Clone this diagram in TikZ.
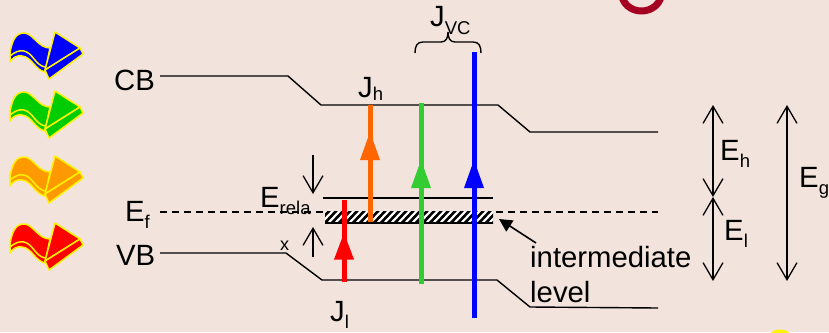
\documentclass[tikz,border=0pt]{standalone}
\usepackage{fontspec}
\setmainfont{Liberation Sans}
\usetikzlibrary{arrows.meta}
\definecolor{bgc}{HTML}{F2E4DC}
\definecolor{dred}{HTML}{A50021}
\definecolor{cblue}{HTML}{0000FF}
\definecolor{cgreen}{HTML}{00CC00}
\definecolor{corange}{HTML}{FF9900}
\definecolor{cred}{HTML}{FF0000}
\definecolor{agreen}{HTML}{33CC33}
\definecolor{aorange}{HTML}{FF6600}
\newcommand{\lab}[3][-7pt]{{\fontsize{29.3}{29}\selectfont #2}\raisebox{#1}{\fontsize{18.5}{19}\selectfont #3}}
\newcommand{\iconflag}[2]{%
\begin{scope}[yshift=-#1pt]
\draw[iconline,fill=#2] (10,33) .. controls (12,20) and (16,13) .. (24,13) .. controls (33,13) and (38,28) .. (50,28) -- (45,52) .. controls (35,50) and (32,37) .. (22,36) .. controls (17,35) and (12,38) .. (10,42) -- cycle;
\draw[iconline] (10,36) .. controls (15,32) and (19,30) .. (24,31) .. controls (33,33) and (35,45) .. (45,47);
\draw[iconline,fill=#2] (55,12) -- (80,28) -- (45,50) -- cycle;
\draw[iconline,fill=#2] (80,28) -- (83,34) -- (49,59) -- (45,50) -- cycle;
\end{scope}}
\tikzset{
 x=1pt,y=-1pt,
 iconline/.style={draw=yellow,line width=1.5pt,line join=round},
 level/.style={draw=black,line width=1.4pt,line join=round},
 lab/.style={inner sep=0pt,anchor=base west,text=black},
 dim/.style={draw=black,line width=1.3pt,{Straight Barb[length=6mm,width=7mm,line width=1.3pt]}-{Straight Barb[length=6mm,width=7mm,line width=1.3pt]}},
 onebarb/.style={draw=black,line width=1.3pt,-{Straight Barb[length=6mm,width=7mm,line width=1.3pt]}},
}
\begin{document}
\begin{tikzpicture}
\fill[bgc] (0,0) rectangle (829,332);
\useasboundingbox (0,0) rectangle (829,332);
\begin{scope}
\clip (0,0) rectangle (829,332);
\draw[dred,line width=7pt] (621,-10) .. controls (621,18) and (662,18) .. (662,-10);
\fill[yellow] (770,334) .. controls (774,328) and (786,328) .. (790,334) -- cycle;
\end{scope}
% icons
\iconflag{20}{cblue}
\iconflag{79}{cgreen}
\iconflag{144}{corange}
\iconflag{211}{cred}
% band coordinates
\coordinate (cb0) at (160,76); \coordinate (cb1) at (288,76); \coordinate (cb2) at (321,105);
\coordinate (cb3) at (498,105); \coordinate (cb4) at (530,132); \coordinate (cb5) at (658,132);
\coordinate (vb0) at (160,253); \coordinate (vb1) at (286,253); \coordinate (vb2) at (322,280);
\coordinate (vb3) at (497,280); \coordinate (vb4) at (530,307); \coordinate (vb5) at (658,308);
\draw[level] (cb0)--(cb1)--(cb2)--(cb3)--(cb4)--(cb5);
\draw[level] (vb0)--(vb1)--(vb2)--(vb3)--(vb4)--(vb5);
\coordinate (ef0) at (160,212); \coordinate (ef1) at (658,212);
\draw[draw=black,line width=1.3pt,dash pattern=on 7pt off 5pt] (ef0)--(ef1);
\coordinate (il0) at (323,198); \coordinate (il1) at (493,198);
\draw[level] (il0)--(il1);
% hatched level
\begin{scope}
\clip (325,211.5) rectangle (493,223);
\fill[white] (325,211) rectangle (493,224);
\foreach \h in {315,322,...,510}{\draw[black,line width=2.6pt] (\h,226)--(\h+17,208);}
\end{scope}
\draw[black,line width=1.2pt] (325,223)--(493,223);
% vertical arrows
\coordinate (r0) at (344,282); \coordinate (r1) at (344,200);
\coordinate (o0) at (370,222); \coordinate (o1) at (370,105);
\coordinate (g0) at (421,284); \coordinate (g1) at (421,103);
\coordinate (b0) at (474,318); \coordinate (b1) at (474,52);
\draw[cred,line width=5pt] (r0)--(r1);
\fill[cred] (344,233) -- (354,259.5) -- (334,259.5) -- cycle;
\draw[aorange,line width=5pt] (o0)--(o1);
\fill[aorange] (370,132) -- (380,160) -- (360,160) -- cycle;
\draw[agreen,line width=5pt] (g0)--(g1);
\fill[agreen] (421,160) -- (431,188) -- (411,188) -- cycle;
\draw[cblue,line width=5pt] (b0)--(b1);
\fill[cblue] (474,160) -- (484,188) -- (464,188) -- cycle;
% relaxation arrows
\coordinate (d0) at (313,155); \coordinate (d1) at (313,194);
\coordinate (u0) at (313,257); \coordinate (u1) at (313,227);
\draw[onebarb] (d0)--(d1);
\draw[onebarb] (u0)--(u1);
% dimension arrows
\coordinate (h0) at (713,105); \coordinate (h1) at (713,197); \coordinate (l1) at (713,281);
\coordinate (g2) at (787,105); \coordinate (g3) at (787,281);
\draw[dim] (h0)--(h1);
\draw[dim] (h1)--(l1);
\draw[dim] (g2)--(g3);
% brace
\draw[black,line width=1.4pt] (415,53) .. controls (415,46) and (417,42) .. (423,42) -- (441,42) .. controls (446,42) and (448,38) .. (448,32) .. controls (448,38) and (450,42) .. (455,42) -- (473,42) .. controls (479,42) and (481,46) .. (481,53);
% pointer
\coordinate (p0) at (536,243); \coordinate (p1) at (499,219);
\draw[black,line width=1.6pt,-{Triangle[length=13pt,width=13pt]}] (p0)--(p1);
% labels
\node[lab] (tcb) at (114,90) {\fontsize{29.3}{29}\selectfont CB};
\node[lab] (tvb) at (116,265) {\fontsize{29.3}{29}\selectfont VB};
\node[lab] (tef) at (125,221) {\lab{E}{f}};
\node[lab] (ter) at (260,207) {\lab{E}{rela}};
\node[lab] (tx) at (280,250) {\fontsize{18}{18}\selectfont x};
\node[lab] (tjl) at (330,321) {\lab{J}{l}};
\node[lab] (tjh) at (358,97) {\lab[-3.5pt]{J}{h}};
\node[lab] (tjvc) at (430,27) {\lab{J}{VC}};
\node[lab] (tint) at (530,267) {\fontsize{29.3}{29}\selectfont intermediate};
\node[lab] (tlev) at (530,302) {\fontsize{29.3}{29}\selectfont level};
\node[lab] (teh) at (720,160) {\lab{E}{h}};
\node[lab] (tel) at (724,240) {\lab{E}{l}};
\node[lab] (teg) at (799,187) {\lab{E}{g}};
\end{tikzpicture}
\end{document}
